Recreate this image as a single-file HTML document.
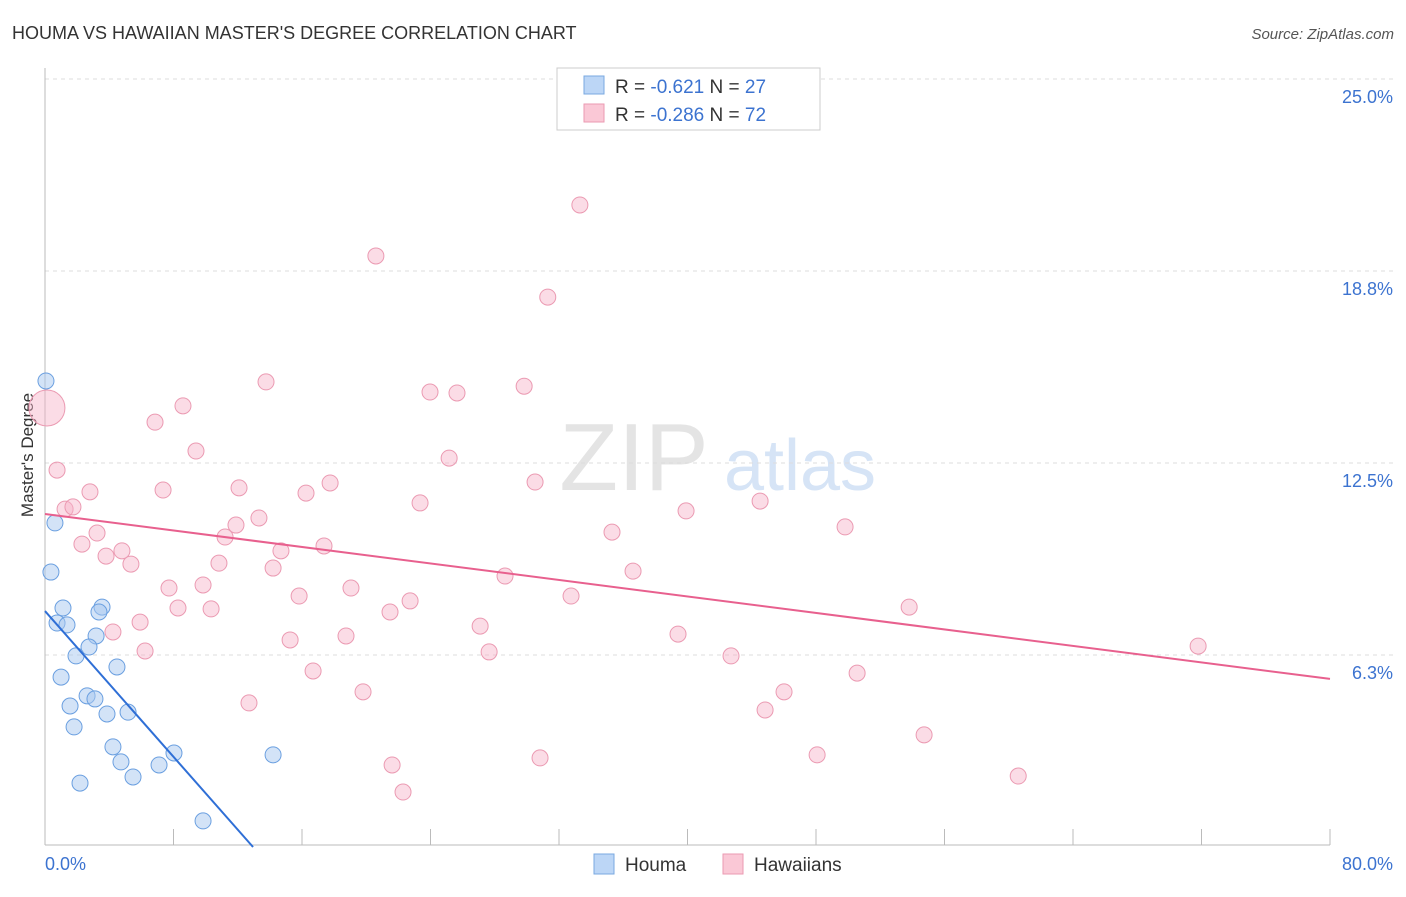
<!DOCTYPE html>
<html><head><meta charset="utf-8"><style>
body{margin:0;background:#fff;font-family:"Liberation Sans",sans-serif;}
svg text{font-family:"Liberation Sans",sans-serif;}
</style></head><body>
<svg id="c" width="1406" height="892">
<text x="12" y="39" font-size="18" fill="#333">HOUMA VS HAWAIIAN MASTER'S DEGREE CORRELATION CHART</text>
<text x="1394" y="39" font-size="15" fill="#555" font-style="italic" text-anchor="end">Source: ZipAtlas.com</text>
<text x="634" y="490" font-size="96" fill="#e4e4e4" font-family="Liberation Serif" text-anchor="middle">ZIP</text>
<text x="800" y="490" font-size="72" fill="#d6e4f6" text-anchor="middle">atlas</text>
<text transform="translate(33,455) rotate(-90)" font-size="17" fill="#333" text-anchor="middle">Master's Degree</text>
<g id="grid"></g><g id="pts"></g><g id="lines"></g>
<g>
<rect x="557" y="68" width="263" height="62" fill="#fff" stroke="#ccc"/>
<rect x="584" y="76" width="20" height="18" fill="#bcd6f6" stroke="#7aa8e0"/>
<rect x="584" y="104" width="20" height="18" fill="#fac8d6" stroke="#eb9ab2"/>
<text x="615" y="93" font-size="19" fill="#333">R = <tspan fill="#3c73d0">-0.621</tspan>    N = <tspan fill="#3c73d0">27</tspan></text>
<text x="615" y="121" font-size="19" fill="#333">R = <tspan fill="#3c73d0">-0.286</tspan>    N = <tspan fill="#3c73d0">72</tspan></text>
</g>
<g>
<rect x="594" y="854" width="20" height="20" fill="#bcd6f6" stroke="#7aa8e0"/>
<text x="625" y="871" font-size="19" fill="#333">Houma</text>
<rect x="723" y="854" width="20" height="20" fill="#fac8d6" stroke="#eb9ab2"/>
<text x="754" y="871" font-size="19" fill="#333">Hawaiians</text>
</g>
</svg>
<script>
const yTicks=[25,18.75,12.5,6.25];
const yTickLabels=["25.0%","18.8%","12.5%","6.3%"];
const xTickLabels=["0.0%","80.0%"];
const houmaX=[0.06,0.62,0.37,1.12,0.75,1.37,3.55,3.36,3.18,2.74,1.93,4.48,1.0,2.62,3.11,1.56,3.86,5.17,1.81,4.23,8.03,4.73,7.10,5.48,2.18,14.2,9.84];
const houmaY=[15.17,10.55,8.95,7.78,7.29,7.23,7.81,7.65,6.87,6.51,6.22,5.86,5.53,4.92,4.82,4.59,4.33,4.39,3.91,3.26,3.06,2.77,2.67,2.28,2.08,3.0,0.85];
const hawX=[0.12,33.3,20.6,31.3,13.76,23.97,25.65,29.83,8.59,6.85,9.40,0.75,25.16,30.51,12.08,7.35,16.25,17.75,2.8,23.35,1.25,1.74,13.32,11.89,44.52,39.91,49.81,35.3,3.24,11.21,2.3,4.79,14.69,17.37,3.8,5.35,10.83,14.2,36.61,28.64,7.72,9.84,19.05,15.82,22.73,32.75,8.28,10.34,21.48,53.8,5.92,4.23,27.09,18.74,15.26,39.41,71.79,6.23,27.65,42.71,16.69,50.56,19.8,46.01,12.7,44.83,54.73,48.07,30.82,21.61,60.59,22.29];
const hawY=[14.29,20.9,19.24,17.9,15.14,14.81,14.78,15.0,14.36,13.83,12.89,12.27,12.66,11.88,11.69,11.62,11.52,11.85,11.56,11.2,11.0,11.07,10.71,10.48,11.26,10.94,10.42,10.25,10.22,10.09,9.86,9.64,9.64,9.8,9.47,9.21,9.24,9.08,8.98,8.82,8.43,8.53,8.43,8.17,8.01,8.17,7.78,7.75,7.65,7.81,7.32,7.0,7.19,6.87,6.74,6.93,6.54,6.38,6.35,6.22,5.73,5.66,5.05,5.05,4.69,4.46,3.65,3.0,2.9,2.67,2.31,1.79];
const houmaTrend=[7.68,-0.593];
const hawTrend=[10.84,-0.0671];
const X=v=>45+v*1285/80, Y=v=>847-v*30.72;
const NS="http://www.w3.org/2000/svg";
function mk(t,a,p){const e=document.createElementNS(NS,t);for(const k in a)e.setAttribute(k,a[k]);p.appendChild(e);return e;}
const g=document.getElementById('grid');
yTicks.forEach((v,i)=>{
 const l=mk('line',{x1:45,x2:1395,y1:Y(v),y2:Y(v),stroke:'#ddd','stroke-dasharray':'4,4'},g);
 
 
 const t=mk('text',{x:1393,y:Y(v)+24,'font-size':18,fill:'#3c73d0','text-anchor':'end'},g);t.textContent=yTickLabels[i];
 
 
});
const ax=mk('line',{x1:45,x2:45,y1:68,y2:845,stroke:'#bbb'},g);


const bx=mk('line',{x1:45,x2:1330,y1:845,y2:845,stroke:'#bbb'},g);


for(let k=1;k<=10;k++){const tk=mk('line',{x1:45+128.5*k,x2:45+128.5*k,y1:829,y2:845,stroke:'#bbb'},g);
 
 }
[[0,'start',45],[80,'end',1393]].forEach((d,i)=>{const t=mk('text',{x:d[2],y:870,'font-size':18,fill:'#3c73d0','text-anchor':d[1]},g);t.textContent=xTickLabels[i];
 
 });
const p=document.getElementById('pts');
hawX.forEach((x,i)=>{const c=mk('circle',{cx:X(x),cy:Y(hawY[i]),r:i===0?18:8,fill:'rgba(246,178,200,0.45)',stroke:'#eb9ab2','stroke-width':1},p);
 
 });
houmaX.forEach((x,i)=>{const c=mk('circle',{cx:X(x),cy:Y(houmaY[i]),r:8,fill:'rgba(168,200,240,0.5)',stroke:'#6a9fe0','stroke-width':1},p);
 
 });
const L=document.getElementById('lines');
const bEnd=-houmaTrend[0]/houmaTrend[1];
const bl=mk('line',{x1:X(0),y1:Y(houmaTrend[0]),x2:X(bEnd),y2:Y(0),stroke:'#2f6fd6','stroke-width':2},L);


const pl=mk('line',{x1:X(0),y1:Y(hawTrend[0]),x2:X(80),y2:Y(hawTrend[0]+hawTrend[1]*80),stroke:'#e8608e','stroke-width':2},L);


</script>
</body></html>
